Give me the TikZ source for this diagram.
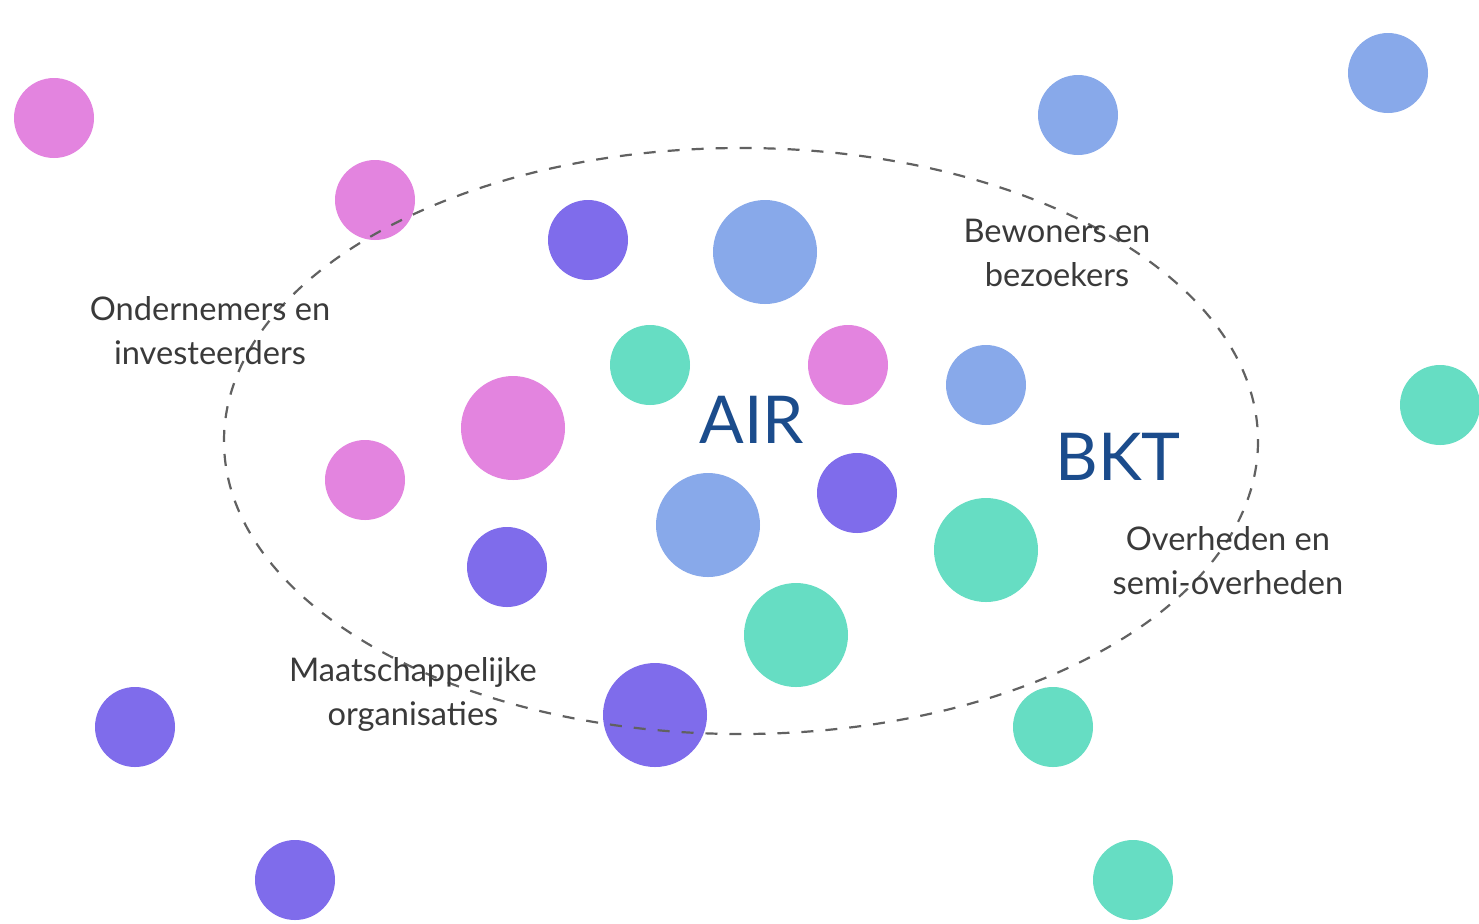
\documentclass[tikz,border=0pt]{standalone}
\usepackage{fontspec}
\setmainfont{Lato}
\definecolor{cpink}{HTML}{E384DF}
\definecolor{cblue}{HTML}{88A9EA}
\definecolor{cpurple}{HTML}{7F6CEB}
\definecolor{cgreen}{HTML}{66DDC3}
\definecolor{ctitle}{HTML}{1B4C8C}
\definecolor{clabel}{HTML}{3A3A3A}
\begin{document}
\begin{tikzpicture}[x=0.5pt,y=-0.5pt,
  dot/.style={circle,inner sep=0pt,minimum size=40pt},
  bigdot/.style={circle,inner sep=0pt,minimum size=52pt},
  grp/.style={font=\fontsize{16.3}{22}\selectfont,text=clabel,align=center,inner sep=0pt},
  ttl/.style={font=\fontsize{33}{36}\selectfont,text=ctitle,inner sep=0pt},
  bound/.style={draw=black!62,line width=1.1pt,dash pattern=on 6pt off 6pt}]
\useasboundingbox[fill=white] (0,0) rectangle (1479,923);
% circles
\node[dot,fill=cpink] (p1) at (54,118) {};
\node[dot,fill=cpink] (p2) at (375,200) {};
\node[dot,fill=cpurple] (u1) at (588,240) {};
\node[bigdot,fill=cblue] (b1) at (765,252) {};
\node[dot,fill=cblue] (b2) at (1078,115) {};
\node[dot,fill=cblue] (b3) at (1388,73) {};
\node[dot,fill=cgreen] (g1) at (650,365) {};
\node[dot,fill=cpink] (p3) at (848,365) {};
\node[dot,fill=cblue] (b4) at (986,385) {};
\node[dot,fill=cgreen] (g2) at (1440,405) {};
\node[bigdot,fill=cpink] (p4) at (513,428) {};
\node[dot,fill=cpink] (p5) at (365,480) {};
\node[dot,fill=cpurple] (u2) at (857,493) {};
\node[bigdot,fill=cblue] (b5) at (708,525) {};
\node[bigdot,fill=cgreen] (g3) at (986,550) {};
\node[dot,fill=cpurple] (u3) at (507,567) {};
\node[bigdot,fill=cgreen] (g4) at (796,635) {};
\node[bigdot,fill=cpurple] (u4) at (655,715) {};
\node[dot,fill=cgreen] (g5) at (1053,727) {};
\node[dot,fill=cpurple] (u5) at (135,727) {};
\node[dot,fill=cpurple] (u6) at (295,880) {};
\node[dot,fill=cgreen] (g6) at (1133,880) {};
% dashed boundary
\draw[bound] (741,441) ellipse [x radius=517, y radius=293];
% labels
\node[ttl] (air) at (752,420) {AIR};
\node[ttl] (bkt) at (1118,457) {BKT};
\node[grp] (ond) at (210,331) {Ondernemers en\\investeerders};
\node[grp] (bew) at (1057,253) {Bewoners en\\bezoekers};
\node[grp] (ove) at (1228,561) {Overheden en\\semi-overheden};
\node[grp] (maa) at (413,694) {Maatschappelijke\\organisaties};
\end{tikzpicture}
\end{document}
